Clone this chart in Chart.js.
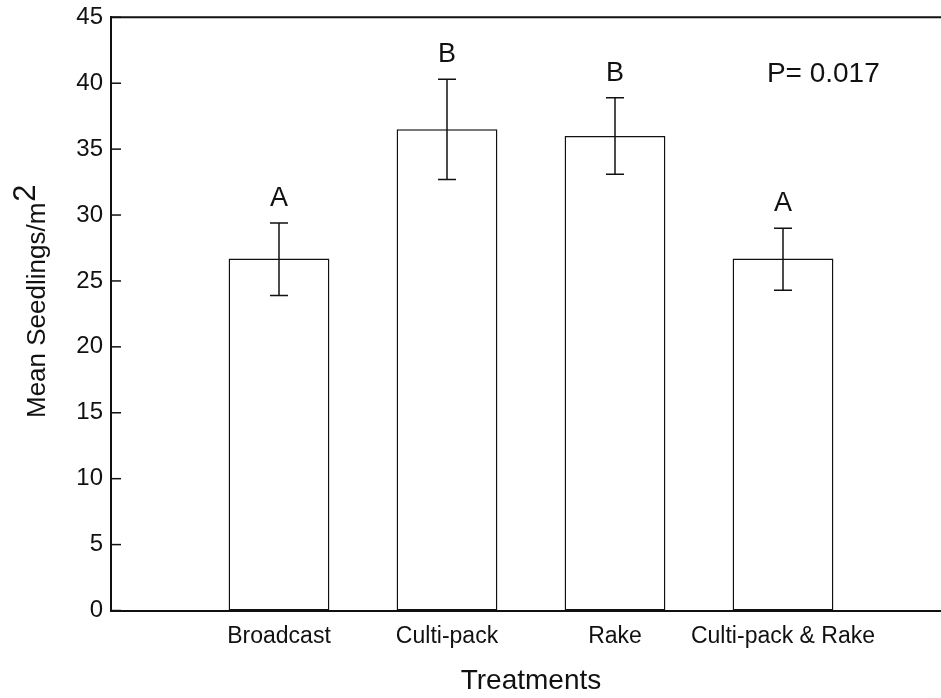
<!DOCTYPE html>
<html>
<head>
<meta charset="utf-8">
<script src="https://cdn.jsdelivr.net/npm/chart.js@4.4.1/dist/chart.umd.min.js"></script>
<style>
  html, body { margin: 0; padding: 0; background: #fff; overflow: hidden; }
  #chart { display: block; width: 963px; height: 698px; }
</style>
</head>
<body>
<canvas id="chart" width="963" height="698"></canvas>
<script>
const categories = ["Broadcast", "Culti-pack", "Rake", "Culti-pack & Rake"];
const means = [26.7, 36.5, 36.0, 26.7];
const errLow = [23.9, 32.7, 33.1, 24.3];
const errHigh = [29.4, 40.3, 38.9, 29.0];
const letters = ["A", "B", "B", "A"];
const yTicks = [0, 5, 10, 15, 20, 25, 30, 35, 40, 45];
const pText = "P= 0.017";

const FONT = "'Liberation Sans', Arial, sans-serif";

const extras = {
  id: "extras",
  afterDatasetsDraw(chart) {
    const { ctx, chartArea, scales } = chart;
    const x = scales.x, y = scales.y;
    ctx.save();
    ctx.strokeStyle = "#111";
    ctx.fillStyle = "#111";

    // top frame line
    ctx.lineWidth = 2;
    ctx.beginPath();
    ctx.moveTo(chartArea.left, chartArea.top);
    ctx.lineTo(chartArea.right, chartArea.top);
    ctx.stroke();

    // inward y ticks
    ctx.lineWidth = 1.5;
    yTicks.forEach(v => {
      const py = y.getPixelForValue(v);
      ctx.beginPath();
      ctx.moveTo(chartArea.left, py);
      ctx.lineTo(chartArea.left + 10, py);
      ctx.stroke();
    });

    // error bars and letters
    ctx.font = "27px " + FONT;
    ctx.textAlign = "center";
    ctx.textBaseline = "alphabetic";
    means.forEach((m, i) => {
      const px = x.getPixelForValue(i + 1);
      const lo = y.getPixelForValue(errLow[i]);
      const hi = y.getPixelForValue(errHigh[i]);
      ctx.lineWidth = 1.5;
      ctx.beginPath();
      ctx.moveTo(px, lo); ctx.lineTo(px, hi);
      ctx.moveTo(px - 9, lo); ctx.lineTo(px + 9, lo);
      ctx.moveTo(px - 9, hi); ctx.lineTo(px + 9, hi);
      ctx.stroke();
      ctx.fillText(letters[i], px, hi - 17);
    });

    // P value
    ctx.font = "28px " + FONT;
    ctx.fillText(pText, x.getPixelForValue(4.24), y.getPixelForValue(40.1));

    // y axis title with superscript
    const main = "Mean Seedlings/m", sup = "2";
    ctx.font = "26px " + FONT;
    const wMain = ctx.measureText(main).width;
    ctx.translate(45, 418);
    ctx.rotate(-Math.PI / 2);
    ctx.textAlign = "left";
    ctx.fillText(main, 0, 0);
    ctx.font = "31px " + FONT;
    ctx.fillText(sup, wMain + 1, -10);
    ctx.restore();
  }
};

new Chart(document.getElementById("chart"), {
  type: "bar",
  data: {
    datasets: [
      {
        label: "Mean",
        data: means.map((v, i) => ({ x: i + 1, y: v })),
        backgroundColor: "#ffffff",
        borderColor: "#111",
        borderWidth: 1.5,
        borderSkipped: false,
        barPercentage: 0.6,
        categoryPercentage: 1,
      },
    ],
  },
  options: {
    responsive: false,
    animation: false,
    layout: { padding: 0 },
    plugins: {
      legend: { display: false },
      tooltip: { enabled: false },
    },
    scales: {
      x: {
        type: "linear",
        offset: false,
        min: 0,
        max: 5,
        grid: { display: false, drawTicks: false },
        border: { display: true, color: "#111", width: 2 },
        ticks: {
          stepSize: 1,
          autoSkip: false,
          maxRotation: 0,
          padding: 12,
          color: "#111",
          font: { family: FONT, size: 23 },
          callback: v => categories[v - 1] || "",
        },
        title: {
          display: true,
          text: "Treatments",
          color: "#111",
          font: { family: FONT, size: 28 },
          padding: { top: 0, bottom: 0 },
        },
        afterFit: s => { s.height = 87.5; },
      },
      y: {
        min: 0,
        max: 45,
        grid: { display: false, drawTicks: false },
        border: { display: true, color: "#111", width: 2 },
        ticks: {
          stepSize: 5,
          padding: 8,
          color: "#111",
          font: { family: FONT, size: 24, lineHeight: 0.775 },
        },
        afterFit: s => { s.width = 111; },
      },
    },
  },
  plugins: [extras],
});
</script>
</body>
</html>
